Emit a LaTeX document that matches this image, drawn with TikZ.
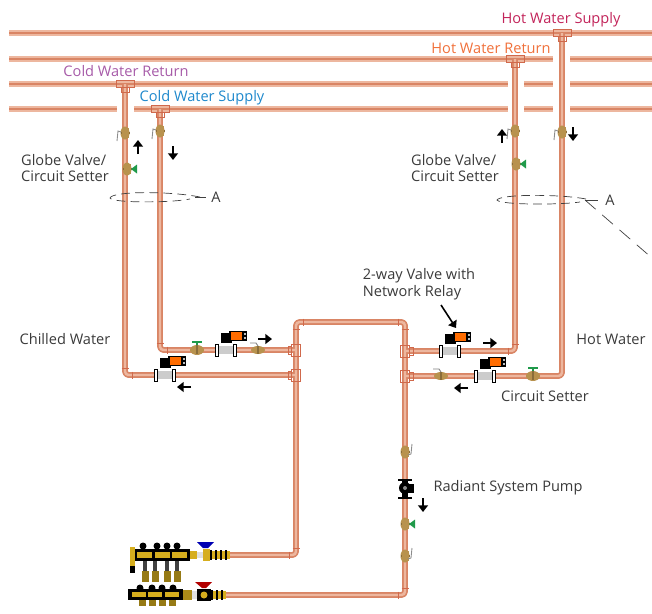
\documentclass[tikz,border=0pt]{standalone}
\usepackage{fontspec}
\setmainfont{Open Sans}
\usetikzlibrary{arrows.meta}
\definecolor{pipeedge}{HTML}{EDB79F}
\definecolor{pipecore}{HTML}{D98565}
\definecolor{fitline}{HTML}{D0694C}
\definecolor{brass}{HTML}{B8924E}
\definecolor{brassdark}{HTML}{8A6D3A}
\definecolor{valvegreen}{HTML}{1F9A4A}
\definecolor{mfyellow}{HTML}{D6AE1E}
\definecolor{labelgray}{HTML}{3A3A3A}
\definecolor{coldret}{HTML}{A65AA8}
\definecolor{coldsup}{HTML}{1E88CC}
\definecolor{hotsup}{HTML}{C2245A}
\definecolor{hotret}{HTML}{F0703A}
\tikzset{
  pipe/.style={draw=pipecore, line width=3.3pt, line join=round},
  pipeinner/.style={draw=pipeedge, line width=1.4pt, line join=round},
  header/.style={draw=pipeedge, line width=3.3pt},
  headerinner/.style={draw=pipecore, line width=1.5pt},
  fitting/.style={draw=fitline, line width=0.4pt},
  flowarrow/.style={line width=1.6pt, -{Triangle[width=5.6pt,length=3.8pt]}, black},
  dashline/.style={black!75, line width=0.4pt, dash pattern=on 5pt off 3pt},
  lbl/.style={font=\fontsize{8.3}{9.6}\selectfont, text=labelgray, inner sep=0pt, align=left},
  ballbody/.pic={
    \fill[brass] (0,0) ellipse (4.5 and 6.5);
    \fill[brassdark] (-4.5,-1) rectangle (4.5,1);
    \fill[brass] (-3.5,-5) rectangle (3.5,5);
  },
  ballvalve/.pic={
    \pic {ballbody};
    \draw[black!45, line width=0.5pt] (-4,-1) -- (-7,-2) -- (-8,8);
  },
  ballside/.pic={
    \pic {ballbody};
    \draw[black!45, line width=0.5pt] (3,3) -- (6,2) -- (7,-8);
  },
  inlineball/.pic={
    \fill[brass] (0,0) ellipse (7 and 4);
    \fill[brassdark] (-1,-4) rectangle (1,4);
    \draw[black!50, line width=0.5pt] (0,-4) -- (-2,-7) -- (-8,-7);
  },
  setter/.pic={
    \pic {ballbody};
    \fill[valvegreen] (4,0) -- (10,-4.5) -- (10,4.5) -- cycle;
  },
  inlinesetter/.pic={
    \fill[brass] (0,0) ellipse (7 and 5);
    \fill[brassdark] (-1,-5) rectangle (1,4);
    \fill[valvegreen] (-5,-9.5) rectangle (5,-7.5);
    \draw[valvegreen, line width=0.8pt] (0,-8) -- (0,-5);
  },
  actuated/.pic={
    \fill[black!20] (-9,-4) rectangle (9,4);
    \foreach \xf in {-9,9} {
      \draw[black, fill=white, line width=0.5pt] (\xf-1.5,-6) rectangle (\xf+1.5,6);
    }
    \fill[black] (-5,-17) rectangle (6,-7);
    \fill[black] (3,-19) rectangle (21,-9);
    \fill[orange!85!red] (5,-18) rectangle (16,-10);
    \fill[black!25] (17.5,-17) rectangle (19.5,-15);
    \fill[black!25] (17.5,-13) rectangle (19.5,-11);
  },
  pump/.pic={
    \fill[black] (-7,-10) rectangle (7,-8);
    \fill[black] (-7,8) rectangle (7,10);
    \fill[black] (-3,-9) rectangle (3,9);
    \fill[black] (0,-1) circle (6);
    \fill[black] (0,-5) rectangle (9,4);
    \fill[black!45] (0,-1) circle (2);
  },
  flowup/.pic={\draw[flowarrow] (0,7) -- (0,-7);},
  flowdown/.pic={\draw[flowarrow] (0,-7) -- (0,7);},
  flowright/.pic={\draw[flowarrow] (-7,0) -- (7,0);},
  flowleft/.pic={\draw[flowarrow] (7,0) -- (-7,0);},
}

\begin{document}
\begin{tikzpicture}[x=0.02cm, y=-0.02cm]
\useasboundingbox (0,0) rectangle (652,613);

%% pipe junctions
\coordinate (crTee) at (125,84);
\coordinate (csTee) at (160,109);
\coordinate (hrTee) at (515,59);
\coordinate (hsTee) at (562,33);
\coordinate (chillSup) at (296,350);
\coordinate (chillRet) at (296,375);
\coordinate (hotSup) at (405,351);
\coordinate (hotRet) at (405,376);
\coordinate (loopA) at (296,322);
\coordinate (loopB) at (405,322);
\coordinate (mfTop) at (226,555);
\coordinate (mfBot) at (222,595);

%% headers, broken where a riser passes
\foreach \ya/\xa/\xb in {33/9/652, 59/9/553, 59/570/652, 84/9/508, 84/524/553, 84/570/652,
                         109/9/117, 109/134/508, 109/524/553, 109/570/652} {
  \draw[header] (\xa,\ya) -- (\xb,\ya);
  \draw[headerinner] (\xa,\ya) -- (\xb,\ya);
}

%% risers and branches
\foreach \run in {pipe, pipeinner} {
  \draw[\run, rounded corners=2pt] (crTee) |- (chillRet);
  \draw[\run, rounded corners=2pt] (csTee) |- (chillSup);
  \draw[\run, rounded corners=2pt] (hrTee) |- (hotSup);
  \draw[\run, rounded corners=2pt] (hsTee) |- (hotRet);
  \draw[\run, rounded corners=2pt] (mfTop) -| (chillRet) -- (chillSup) |- (loopB) -- (hotSup) -- (hotRet) |- (mfBot);
}

%% fittings
\foreach \nm in {crTee, csTee, hrTee, hsTee} {
  \draw[fitting] (\nm) ++(-9,-3.5) rectangle ++(18,7);
  \draw[fitting] (\nm) ++(-4,3.5) rectangle ++(8,5);
}
\foreach \nm in {chillSup, chillRet} {
  \draw[fitting] (\nm) ++(-4.5,-6) rectangle ++(9,12);
  \draw[fitting] (\nm) ++(-8,-4) rectangle ++(3.5,8);
}
\foreach \nm in {hotSup, hotRet} {
  \draw[fitting] (\nm) ++(-4.5,-6) rectangle ++(9,12);
  \draw[fitting] (\nm) ++(4.5,-4) rectangle ++(3.5,8);
}
%% elbow sleeves
\foreach \ex/\ey/\sx/\sy in {125/375/1/-1, 160/350/1/-1, 515/351/-1/-1, 296/322/1/1, 405/322/-1/1, 296/555/-1/-1, 405/595/-1/-1} {
  \draw[fitting] (\ex-3.5,\ey+\sy*7) -- (\ex+3.5,\ey+\sy*7);
  \draw[fitting] (\ex+\sx*7,\ey-3.5) -- (\ex+\sx*7,\ey+3.5);
}

%% valves on the risers
\pic at (125,133) {ballvalve};
\pic at (127,169) {setter};
\pic at (160,131) {ballvalve};
\pic at (515,131) {ballvalve};
\pic at (516,164) {setter};
\pic at (562,132) {ballvalve};

%% left branches
\pic at (197,350) {inlinesetter};
\pic at (226,350) {actuated};
\pic at (258,350) {inlineball};
\pic at (165,375) {actuated};

%% right branches
\pic at (450,351) {actuated};
\coordinate (relayValve) at (456,328);
\pic at (441,376) {inlineball};
\pic at (485,376) {actuated};
\pic at (533,376) {inlinesetter};

%% pump line
\pic at (405,452) {ballside};
\pic at (405,489) {pump};
\pic at (405,524) {setter};
\pic at (405,556) {ballside};

%% flow direction
\pic at (138,147) {flowup};
\pic at (173,153) {flowdown};
\pic at (502,136) {flowup};
\pic at (573,134) {flowdown};
\pic at (265,339) {flowright};
\pic at (184,387) {flowleft};
\pic at (490,343) {flowright};
\pic at (461,388) {flowleft};
\pic at (423,505) {flowdown};

%% manifolds
\fill[black] (135,549) rectangle (190,561);
\foreach \xa in {137,155,172} {
  \fill[mfyellow] (\xa,552) rectangle (\xa+15,558);
}
\fill[mfyellow] (130,547) rectangle (135,566);
\fill[black] (130,566) rectangle (135,573);
\foreach \xa/\xb in {143/145,157/155,167/167,177/177} {
  \fill[black] (\xa,546) circle (3.5);
  \fill[black!75] (\xb-2,561) rectangle (\xb+2,575);
  \fill[mfyellow!70!black] (\xb-3.5,571) rectangle (\xb+3.5,582);
}
\fill[mfyellow] (190,551) rectangle (197,559);
\fill[black!12] (197,552) rectangle (203,558);
\fill[mfyellow] (203,549) rectangle (210,561);
\foreach \xa in {210,215,220,225} {
  \fill[black] (\xa,550) rectangle (\xa+1.5,560);
  \fill[mfyellow] (\xa+1.5,551) rectangle (\xa+5,559);
}
\fill[blue!70!black] (197,542) -- (214,542) -- (208,548) -- (203,548) -- cycle;
\fill[black] (128,589) rectangle (183,600);
\foreach \xa in {132,148,165} {
  \fill[mfyellow] (\xa,592) rectangle (\xa+14,597);
}
\foreach \xa/\xb in {140/142,152/152,162/162,173/172} {
  \fill[black] (\xa,588) circle (3.5);
  \fill[mfyellow!70!black] (\xb-3.5,600) rectangle (\xb+3.5,606);
}
\fill[mfyellow!80!black] (183,590) rectangle (192,600);
\fill[black!12] (192,591) rectangle (197,599);
\fill[black] (197,589) rectangle (211,601);
\fill[mfyellow] (204,595) circle (3.5);
\foreach \xa in {211,216,221} {
  \fill[black] (\xa,590) rectangle (\xa+1.5,600);
  \fill[mfyellow] (\xa+1.5,591) rectangle (\xa+5,599);
}
\fill[red!70!black] (195,582) -- (212,582) -- (206,588) -- (202,588) -- cycle;

%% section marks
\draw[dashline] (200,197) .. controls (170,191) and (112,191) .. (110,198)
                .. controls (112,203) and (170,203) .. (190,199);
\draw[black!75, line width=0.4pt] (195,197) -- (206,197);
\draw[dashline] (586,199) .. controls (560,194) and (500,194) .. (497,200)
                .. controls (500,205) and (560,205) .. (580,202);
\draw[black!75, line width=0.4pt] (585,200) -- (598,200);
\draw[dashline, dash pattern=on 8pt off 5pt] (585,200) -- (652,258);
\node[lbl] (secLeft) at (216,197) {A};
\node[lbl] (secRight) at (610,200) {A};

%% labels
\node[lbl, text=coldret] (crLabel) at (126,71) {Cold Water Return};
\node[lbl, text=coldsup] (csLabel) at (202,97.5) {Cold Water Supply};
\node[lbl, text=hotsup] (hsLabel) at (561,19.5) {Hot Water Supply};
\node[lbl, text=hotret] (hrLabel) at (491,48) {Hot Water Return};
\node[lbl] (gvLeft) at (65,168) {Globe Valve/\\Circuit Setter};
\node[lbl] (gvRight) at (455,168) {Globe Valve/\\Circuit Setter};
\node[lbl] (chillLabel) at (65,339) {Chilled Water};
\node[lbl] (hotLabel) at (611,339) {Hot Water};
\node[lbl] (relayLabel) at (419,284) {2-way Valve with\\Network Relay};
\node[lbl] (setterLabel) at (545,396) {Circuit Setter};
\node[lbl] (pumpLabel) at (508,488) {Radiant System Pump};
\draw[flowarrow, line width=0.9pt] (441,305) -- (relayValve);
\end{tikzpicture}
\end{document}
